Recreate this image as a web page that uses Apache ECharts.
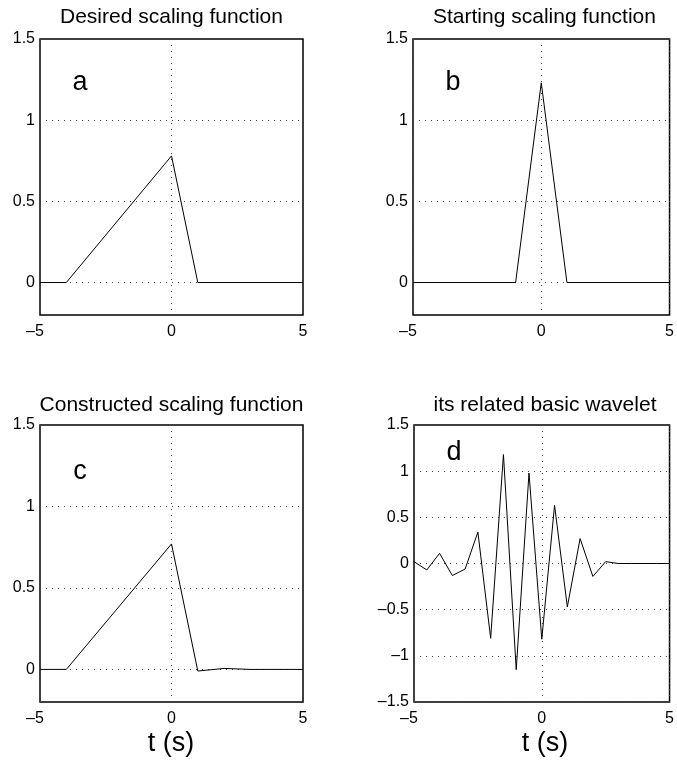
<!DOCTYPE html>
<html>
<head>
<meta charset="utf-8">
<script src="https://cdn.jsdelivr.net/npm/echarts@6/dist/echarts.min.js"></script>
<style>
html,body{margin:0;padding:0;background:#fff;}
#chart{width:677px;height:760px;}
</style>
</head>
<body>
<div id="chart"></div>
<script>
// ---- data ----
const titles = ['Desired scaling function', 'Starting scaling function', 'Constructed scaling function', 'its related basic wavelet'];
const panelLetters = ['a', 'b', 'c', 'd'];
const xTicks = [-5, 0, 5];
const yTicksScaling = [0, 0.5, 1, 1.5];
const yTicksWavelet = [-1.5, -1, -0.5, 0, 0.5, 1, 1.5];
const xLabelText = 't (s)';

const tA = [-5, -4, 0, 1, 5];
const phiA = [0, 0, 0.78, 0, 0];

const tB = [-5, -1, 0, 1, 5];
const phiB = [0, 0, 1.23, 0, 0];

const tC = [-5, -4, 0, 1, 2, 3, 5];
const phiC = [0, 0, 0.77, -0.01, 0.006, 0, 0];

const tD = [-5, -4.5, -4, -3.5, -3, -2.5, -2, -1.5, -1, -0.5, 0, 0.5, 1, 1.5, 2, 2.5, 3, 3.5, 4, 4.5, 5];
const psiD = [0.02, -0.07, 0.11, -0.13, -0.06, 0.34, -0.81, 1.18, -1.15, 0.98, -0.82, 0.63, -0.47, 0.27, -0.14, 0.02, 0.0, 0, 0, 0, 0];

// ---- layout ----
const FONT = 'Liberation Sans, Arial, Helvetica, sans-serif';
const grids = [
  {left: 40, top: 39, width: 263, height: 276},
  {left: 413, top: 39, width: 263, height: 276},
  {left: 40, top: 425, width: 263, height: 277},
  {left: 414, top: 425, width: 262, height: 277}
];
const fmt = v => (v < 0 ? '\u2013' + String(-v) : String(v));
const fmtX = v => (v < 0 ? '{neg|\u2013' + String(-v) + '}' : String(v));
const splitStyle = {show: true, lineStyle: {color: '#444', width: 1, type: [1, 5]}};

const xAxes = grids.map((g, i) => ({
  type: 'value', gridIndex: i, min: -5, max: 5, interval: 5,
  axisLine: {show: false}, axisTick: {show: false},
  axisLabel: {color: '#000', fontSize: 16, fontFamily: FONT, margin: 9, formatter: fmtX,
    rich: {neg: {fontSize: 16, fontFamily: FONT, color: '#000', padding: [0, 10, 0, 0]}}},
  splitLine: splitStyle
}));
const yAxes = grids.map((g, i) => {
  if (i === 3) {
    return {
      type: 'value', gridIndex: i, min: -1.5, max: 1.5, interval: 0.5,
      axisLine: {show: false}, axisTick: {show: false},
      axisLabel: {color: '#000', fontSize: 16, fontFamily: FONT, margin: 5, formatter: fmt},
      splitLine: splitStyle
    };
  }
  return {
    type: 'value', gridIndex: i, min: -0.2, max: 1.5,
    axisLine: {show: false},
    axisTick: {show: false, customValues: yTicksScaling},
    axisLabel: {color: '#000', fontSize: 16, fontFamily: FONT, margin: 5, formatter: fmt, customValues: yTicksScaling},
    splitLine: splitStyle
  };
});

const mk = (ts, vs) => ts.map((t, k) => [t, vs[k]]);
const seriesData = [mk(tA, phiA), mk(tB, phiB), mk(tC, phiC), mk(tD, psiD)];
const series = seriesData.map((d, i) => ({
  type: 'line', xAxisIndex: i, yAxisIndex: i, data: d,
  showSymbol: false, symbol: 'none', animation: false,
  lineStyle: {color: '#000', width: 1}
}));

const graphics = [];
const titleY = [17, 17, 405, 405];
const letterPos = [[80, 83], [453, 83], [80, 472], [454, 453]];
grids.forEach((g, i) => {
  graphics.push({type: 'text', x: g.left + g.width / 2, y: titleY[i],
    style: {text: titles[i], fontSize: 21, fontFamily: FONT, fill: '#000', textAlign: 'center', textVerticalAlign: 'middle'}});
  graphics.push({type: 'text', x: letterPos[i][0], y: letterPos[i][1],
    style: {text: panelLetters[i], fontSize: 27, fontFamily: FONT, fill: '#000', textAlign: 'center', textVerticalAlign: 'middle'}});
});
graphics.push({type: 'text', x: 171, y: 744, style: {text: xLabelText, fontSize: 27, fontFamily: FONT, fill: '#000', textAlign: 'center', textVerticalAlign: 'middle'}});
graphics.push({type: 'text', x: 545, y: 744, style: {text: xLabelText, fontSize: 27, fontFamily: FONT, fill: '#000', textAlign: 'center', textVerticalAlign: 'middle'}});

const chart = echarts.init(document.getElementById('chart'), null, {renderer: 'canvas'});
chart.setOption({
  animation: false,
  backgroundColor: '#fff',
  grid: grids.map(g => Object.assign({show: true, borderColor: '#000', borderWidth: 1.5, backgroundColor: 'transparent'}, g)),
  xAxis: xAxes,
  yAxis: yAxes,
  series: series,
  graphic: graphics
});
</script>
</body>
</html>
